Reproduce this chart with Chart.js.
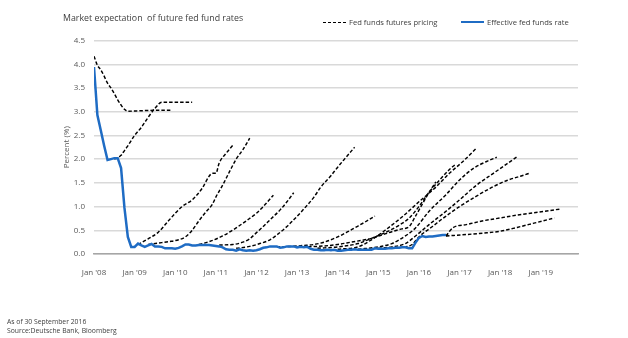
<!DOCTYPE html>
<html>
<head>
<meta charset="utf-8">
<script src="https://cdn.jsdelivr.net/npm/chart.js@4.4.1/dist/chart.umd.min.js"></script>
<style>
  body { margin: 0; background: #fff; font-family: "Open Sans", sans-serif; color: #404040; }
  #wrap { position: relative; width: 628px; height: 338px; }
  #fedChart { position: absolute; left: 0; top: 0; }
  .txt { position: absolute; white-space: pre; line-height: 1; }
  #title { left: 63px; top: 14px; font-size: 8.8px; }
  .legend { position: absolute; top: 17px; font-size: 7.6px; display: flex; align-items: center; }
  .swatch { width: 23px; height: 0; margin-right: 3px; }
  .dash { border-top: 1.6px dashed #000; }
  .solid { border-top: 2.4px solid #1f6cc4; }
  #note1 { left: 7px; top: 319px; font-size: 6.8px; }
  #note2 { left: 7px; top: 328px; font-size: 6.8px; }
</style>
</head>
<body>
<div id="wrap">
  <canvas id="fedChart" width="628" height="338"></canvas>
  <div class="txt" id="title">Market expectation  of future fed fund rates</div>
  <div class="legend" style="left:323px"><span class="swatch dash"></span><span>Fed funds futures pricing</span></div>
  <div class="legend" style="left:461px"><span class="swatch solid"></span><span>Effective fed funds rate</span></div>
  <div class="txt" id="note1">As of 30 September 2016</div>
  <div class="txt" id="note2">Source:Deutsche Bank, Bloomberg</div>
</div>
<script>
// x values are months counted from Jan 2008
const yearLabels = ["Jan '08", "Jan '09", "Jan '10", "Jan '11", "Jan '12", "Jan '13",
  "Jan '14", "Jan '15", "Jan '16", "Jan '17", "Jan '18", "Jan '19"];

// effective fed funds rate, monthly, Jan 2008 - Sep 2016
const effectiveRate = [
  3.94, 2.93, 2.61, 2.28, 1.98, 2.00, 2.02, 2.02, 1.81, 0.97, 0.36, 0.15,
  0.15, 0.22, 0.18, 0.15, 0.18, 0.21, 0.16, 0.16, 0.15, 0.12, 0.12, 0.12,
  0.11, 0.13, 0.16, 0.20, 0.20, 0.18, 0.18, 0.19, 0.19, 0.19, 0.19, 0.18,
  0.17, 0.16, 0.14, 0.10, 0.09, 0.09, 0.07, 0.10, 0.08, 0.07, 0.08, 0.07,
  0.08, 0.10, 0.13, 0.14, 0.16, 0.16, 0.16, 0.13, 0.14, 0.16, 0.16, 0.16,
  0.14, 0.15, 0.14, 0.15, 0.11, 0.09, 0.09, 0.08, 0.08, 0.09, 0.08, 0.09,
  0.07, 0.07, 0.08, 0.09, 0.09, 0.10, 0.09, 0.09, 0.09, 0.09, 0.09, 0.12,
  0.11, 0.11, 0.11, 0.12, 0.12, 0.13, 0.13, 0.14, 0.14, 0.12, 0.12, 0.24,
  0.34, 0.38, 0.36, 0.37, 0.37, 0.38, 0.39, 0.40, 0.40
];

// futures-implied paths, [month, rate]
const curveJan08 = [[0,4.17],[1,3.98],[2,3.88],[3,3.75],[4,3.6],[5,3.5],[6,3.38],[7,3.25],[8,3.14],[9,3.05],[10,3.01],[14,3.02],[19,3.03],[23,3.03]];
const curveJul08 = [[6,2.0],[7,2.03],[8,2.08],[9,2.18],[10,2.28],[12,2.5],[14,2.67],[16,2.88],[18,3.07],[20,3.2],[24,3.2],[29,3.2]];
const curveFeb09 = [[13,0.2],[16,0.32],[19,0.46],[22,0.7],[26,1.0],[29,1.14],[32,1.39],[34,1.64],[35,1.7],[36,1.7],[37,1.92],[39,2.12],[41,2.29]];
const curveMay09 = [[16,0.2],[19,0.23],[22,0.26],[25,0.3],[27,0.36],[29,0.5],[31,0.7],[33,0.88],[35,1.05],[36,1.2],[38,1.45],[40,1.73],[42,2.0],[44,2.2],[46,2.44]];
const curveAug10 = [[31,0.2],[34,0.26],[38,0.38],[42,0.55],[45,0.7],[48,0.86],[50,1.0],[53,1.24]];
const curveFeb11 = [[37,0.19],[41,0.2],[44,0.25],[46,0.32],[48,0.45],[50,0.58],[52,0.72],[55,0.93],[57,1.1],[59,1.29]];
const curveJul11 = [[42,0.12],[46,0.16],[49,0.22],[52,0.3],[54,0.4],[57,0.58],[59,0.72],[61,0.87],[63,1.03],[65,1.2],[67,1.41],[70,1.65],[72,1.83],[74,2.0],[77,2.25]];
const curveJul12 = [[54,0.15],[58,0.16],[62,0.18],[65,0.2],[68,0.25],[72,0.36],[75,0.47],[77,0.55],[80,0.67],[83,0.8]];
const curveJan13 = [[60,0.15],[66,0.16],[72,0.2],[76,0.25],[80,0.3],[82,0.33],[85,0.4],[88,0.47],[91,0.53],[93,0.57],[95,0.8],[97,1.05],[99,1.3],[101,1.52]];
const curveJul13 = [[66,0.12],[72,0.15],[78,0.22],[82,0.33],[86,0.45],[90,0.6],[93,0.75],[96,1.0],[99,1.3],[102,1.55],[105,1.78],[107,1.9]];
const curveJan14 = [[72,0.1],[78,0.15],[82,0.3],[86,0.5],[91,0.78],[96,1.1],[101,1.41],[105,1.7],[109,1.95],[113,2.23]];
const curveJul14 = [[78,0.1],[84,0.15],[88,0.22],[92,0.38],[95,0.55],[99,0.9],[104,1.25],[108,1.56],[112,1.8],[116,1.95],[119,2.04]];
const curveJan15 = [[84,0.12],[88,0.15],[92,0.22],[95,0.38],[99,0.62],[104,0.9],[108,1.14],[113,1.45],[118,1.7],[122,1.9],[125,2.05]];
const curveJul15 = [[90,0.13],[94,0.2],[96,0.36],[100,0.58],[104,0.8],[108,1.0],[113,1.22],[118,1.42],[122,1.55],[126,1.64],[129,1.71]];
const curveSep16a = [[104,0.38],[106,0.55],[110,0.62],[115,0.7],[120,0.76],[125,0.82],[130,0.87],[138,0.95]];
const curveSep16b = [[104,0.38],[110,0.41],[115,0.44],[120,0.48],[125,0.56],[130,0.65],[136,0.76]];

const futuresCurves = [curveJan08, curveJul08, curveFeb09, curveMay09, curveAug10, curveFeb11,
  curveJul11, curveJul12, curveJan13, curveJul13, curveJan14, curveJul14, curveJan15,
  curveJul15, curveSep16a, curveSep16b];

const datasets = [{
  label: "Effective fed funds rate",
  data: effectiveRate.map((v, i) => ({ x: i, y: v })),
  borderColor: "#1f6cc4",
  borderWidth: 2.5,
  pointRadius: 0,
  tension: 0
}];

futuresCurves.forEach(c => {
  datasets.push({
    label: "Fed funds futures pricing",
    data: c.map(p => ({ x: p[0], y: p[1] })),
    borderColor: "#000",
    borderWidth: 1.45,
    borderDash: [3.5, 2],
    pointRadius: 0,
    cubicInterpolationMode: "monotone"
  });
});

const tickFont = { family: "Open Sans", size: 8 };

new Chart(document.getElementById("fedChart"), {
  type: "line",
  data: { datasets },
  options: {
    responsive: false,
    animation: false,
    layout: { padding: { top: 40.5, right: 50, left: 0, bottom: 0 } },
    plugins: { legend: { display: false }, tooltip: { enabled: false } },
    scales: {
      x: {
        type: "linear",
        min: 0,
        max: 143,
        grid: { display: false },
        border: { display: true, color: "#a6a6a6", width: 1.5 },
        afterBuildTicks: s => { s.ticks = yearLabels.map((_, i) => ({ value: i * 12 })); },
        afterFit: s => { s.height = 84; },
        ticks: {
          autoSkip: false,
          maxRotation: 0,
          padding: 6,
          color: "#595959",
          font: tickFont,
          callback: v => yearLabels[v / 12]
        }
      },
      y: {
        min: 0,
        max: 4.5,
        afterFit: s => { s.width = 94; },
        grid: { color: "#d9d9d9", lineWidth: 1.4, drawTicks: false },
        border: { display: false },
        ticks: {
          stepSize: 0.5,
          padding: 9,
          color: "#595959",
          font: tickFont,
          callback: v => v.toFixed(1)
        },
        title: {
          display: true,
          text: "Percent (%)",
          color: "#595959",
          font: tickFont,
          padding: { top: 62, bottom: 0 }
        }
      }
    }
  }
});
</script>
</body>
</html>
